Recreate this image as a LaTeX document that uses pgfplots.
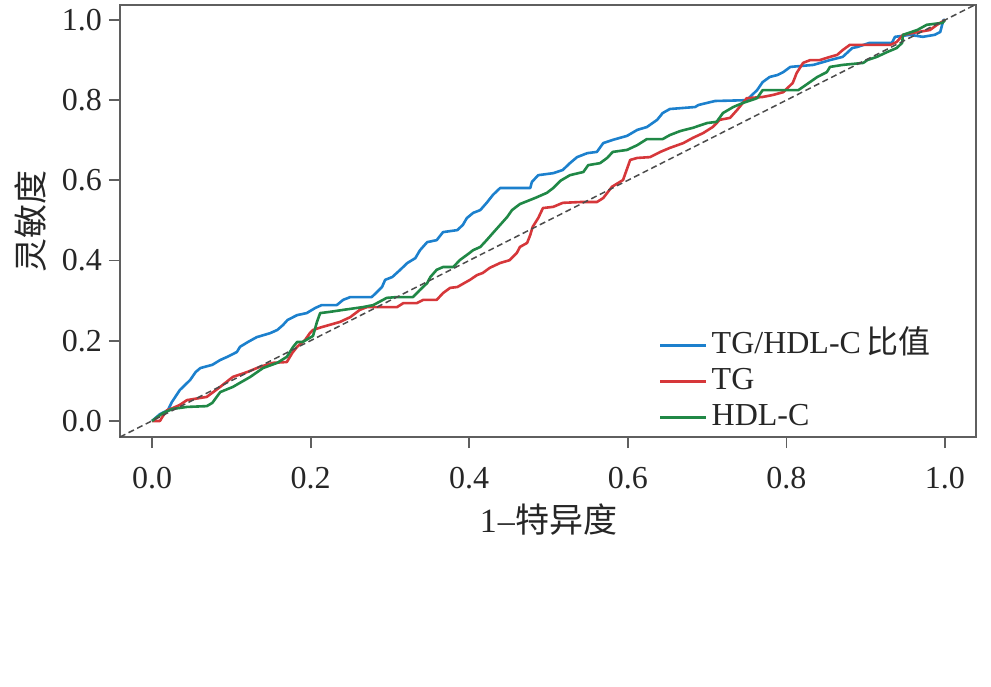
\documentclass[border=0pt]{standalone}
\usepackage{fontspec}
\setmainfont{Liberation Serif}
\newfontfamily\cjk{Noto Sans CJK SC}
\usepackage{pgfplots}
\pgfplotsset{compat=1.18}
\definecolor{cblue}{RGB}{28,128,205}
\definecolor{cred}{RGB}{214,55,58}
\definecolor{cgreen}{RGB}{32,136,70}
\definecolor{frame}{RGB}{95,95,95}
\begin{document}
\begin{tikzpicture}
\begin{axis}[
  name=ax, at={(0,0)}, anchor=south west,
  scale only axis, width=428pt, height=216pt,
  xmin=-0.0404, xmax=1.0391, ymin=-0.040, ymax=1.0374,
  axis line style={draw=frame, line width=1pt},
  xtick={0,0.2,0.4,0.6,0.8,1.0}, ytick={0,0.2,0.4,0.6,0.8,1.0},
  tick align=outside, major tick length=5.5pt,
  tick style={draw=frame, line width=0.9pt},
  xtick pos=bottom, ytick pos=left,
  /pgf/number format/.cd, fixed, fixed zerofill, precision=1, assume math mode=true,
  /pgfplots/.cd,
  ticklabel style={font=\fontsize{16}{18}\selectfont, text=black!85},
  xticklabel style={yshift=-6pt},
  xlabel={1\kern0.5pt–\kern0.5pt{\cjk 特异度}},
  ylabel={{\cjk 灵敏度}},
  label style={font=\fontsize{17}{19}\selectfont, text=black!85},
  xlabel style={at={(axis description cs:0.501,0)}, anchor=center, yshift=-41.5pt},
  ylabel style={at={(axis description cs:-0.105,0.498)}, anchor=center},
  legend style={draw=none, fill=none, at={(axis cs:0.639,0.234)}, anchor=north west,
    font=\fontsize{16}{18}\selectfont, inner sep=0pt, row sep=0pt,
    nodes={text height=11pt, text depth=3pt, inner sep=2pt, text=black!85}},
  legend cell align=left,
  legend image code/.code={\draw[#1, line width=1.3pt] (1.5pt,0pt) -- (19pt,0pt); \path (0pt,0pt) -- (23pt,0pt);},
  every axis plot/.append style={line width=1.3pt, line join=round},
]
\addplot[cblue] coordinates {
(0,0) (0.010,0.017) (0.020,0.027) (0.025,0.047) (0.035,0.077) (0.048,0.102) (0.055,0.122) (0.061,0.132)
(0.076,0.140) (0.086,0.152) (0.095,0.160) (0.107,0.172) (0.111,0.185) (0.121,0.197) (0.132,0.209)
(0.149,0.219) (0.158,0.227) (0.165,0.239) (0.171,0.252) (0.183,0.264) (0.195,0.269) (0.206,0.282)
(0.214,0.289) (0.233,0.289) (0.241,0.302) (0.250,0.309) (0.277,0.309) (0.284,0.322) (0.290,0.334)
(0.294,0.352) (0.303,0.359) (0.313,0.377) (0.322,0.394) (0.332,0.406) (0.338,0.426) (0.347,0.446)
(0.359,0.451) (0.367,0.471) (0.385,0.476) (0.392,0.489) (0.397,0.506) (0.405,0.519) (0.414,0.526)
(0.422,0.544) (0.430,0.564) (0.439,0.581) (0.477,0.581) (0.479,0.596) (0.487,0.613) (0.506,0.618)
(0.518,0.626) (0.527,0.643) (0.536,0.658) (0.549,0.668) (0.561,0.671) (0.569,0.693) (0.581,0.701)
(0.599,0.711) (0.612,0.726) (0.624,0.733) (0.637,0.751) (0.644,0.768) (0.653,0.778) (0.685,0.783)
(0.689,0.788) (0.710,0.798) (0.750,0.800) (0.754,0.808) (0.763,0.825) (0.770,0.845) (0.779,0.858)
(0.789,0.863) (0.796,0.870) (0.805,0.883) (0.834,0.888) (0.855,0.900) (0.871,0.908) (0.883,0.930)
(0.890,0.933) (0.905,0.943) (0.933,0.943) (0.937,0.958) (0.956,0.963) (0.972,0.958) (0.987,0.963)
(0.994,0.970) (0.998,1.0) (1,1)
};
\addlegendentry{TG/HDL-C\,{\cjk 比值}}
\addplot[cred] coordinates {
(0,0) (0.010,0.0) (0.013,0.010) (0.019,0.027) (0.026,0.032) (0.035,0.040) (0.044,0.052) (0.069,0.060)
(0.086,0.085) (0.102,0.110) (0.120,0.122) (0.136,0.135) (0.153,0.145) (0.170,0.147) (0.177,0.170)
(0.183,0.185) (0.193,0.202) (0.199,0.219) (0.203,0.227) (0.214,0.234) (0.237,0.247) (0.250,0.259)
(0.262,0.277) (0.271,0.284) (0.309,0.284) (0.317,0.294) (0.334,0.294) (0.342,0.302) (0.359,0.302)
(0.367,0.319) (0.376,0.332) (0.385,0.334) (0.401,0.352) (0.410,0.364) (0.417,0.369) (0.426,0.382)
(0.439,0.394) (0.451,0.401) (0.460,0.419) (0.464,0.434) (0.473,0.444) (0.477,0.464) (0.480,0.484)
(0.487,0.506) (0.493,0.531) (0.506,0.534) (0.518,0.544) (0.540,0.546) (0.561,0.546) (0.569,0.556)
(0.580,0.584) (0.594,0.601) (0.603,0.651) (0.612,0.656) (0.628,0.658) (0.641,0.671) (0.653,0.681)
(0.670,0.693) (0.682,0.706) (0.695,0.718) (0.707,0.733) (0.716,0.751) (0.729,0.756) (0.738,0.776)
(0.750,0.805) (0.770,0.808) (0.783,0.813) (0.796,0.820) (0.808,0.843) (0.813,0.868) (0.821,0.893)
(0.830,0.900) (0.842,0.900) (0.855,0.908) (0.864,0.913) (0.871,0.925) (0.880,0.938) (0.931,0.938)
(0.939,0.945) (0.947,0.963) (0.960,0.968) (0.981,0.975) (0.990,0.988) (1,1)
};
\addlegendentry{TG}
\addplot[cgreen] coordinates {
(0,0) (0.014,0.020) (0.026,0.030) (0.044,0.035) (0.069,0.037) (0.076,0.045) (0.086,0.072) (0.102,0.085)
(0.124,0.110) (0.140,0.132) (0.158,0.145) (0.170,0.160) (0.178,0.185) (0.183,0.197) (0.190,0.197)
(0.203,0.212) (0.208,0.247) (0.212,0.269) (0.224,0.272) (0.241,0.277) (0.266,0.284) (0.279,0.289)
(0.296,0.307) (0.309,0.309) (0.329,0.309) (0.338,0.327) (0.347,0.344) (0.351,0.359) (0.359,0.377)
(0.367,0.384) (0.380,0.384) (0.388,0.401) (0.397,0.414) (0.405,0.426) (0.414,0.434) (0.422,0.451)
(0.430,0.469) (0.439,0.489) (0.448,0.509) (0.454,0.526) (0.464,0.541) (0.483,0.556) (0.498,0.569)
(0.506,0.581) (0.515,0.599) (0.527,0.613) (0.544,0.621) (0.550,0.638) (0.565,0.643) (0.574,0.656)
(0.581,0.671) (0.599,0.676) (0.612,0.688) (0.624,0.703) (0.644,0.703) (0.653,0.713) (0.666,0.723)
(0.682,0.731) (0.700,0.743) (0.712,0.746) (0.720,0.768) (0.733,0.783) (0.745,0.793) (0.763,0.805)
(0.770,0.825) (0.815,0.825) (0.826,0.840) (0.839,0.858) (0.851,0.870) (0.855,0.883) (0.871,0.888)
(0.897,0.893) (0.902,0.900) (0.914,0.908) (0.927,0.920) (0.939,0.930) (0.946,0.943) (0.947,0.963)
(0.965,0.975) (0.977,0.988) (0.997,0.993) (1,1)
};
\addlegendentry{HDL-C}
\addplot[forget plot, draw=black!70, line width=0.75pt, dash pattern=on 3pt off 1.8pt] coordinates {(-0.0404,-0.040) (1.0374,1.0374)};
\end{axis}
\pgfresetboundingbox
\path ([shift={(-60pt,-124.5pt)}]ax.south west) rectangle ([shift={(435.5pt,218.5pt)}]ax.south west);
\end{tikzpicture}
\end{document}
